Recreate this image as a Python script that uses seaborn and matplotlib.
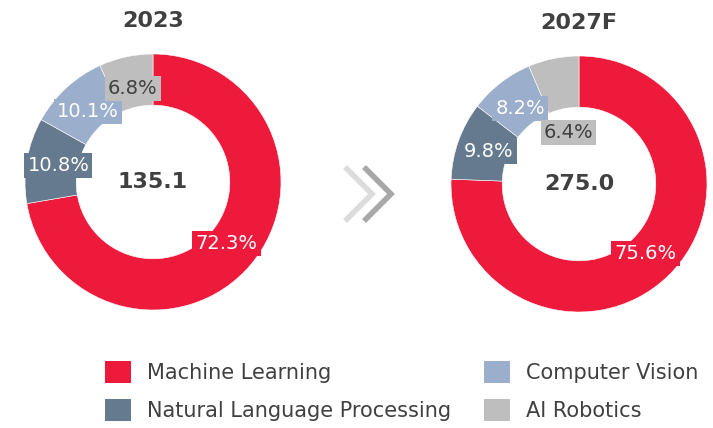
import matplotlib.pyplot as plt
import seaborn as sns
from matplotlib.lines import Line2D
from matplotlib.patches import Patch

segments = ["Machine Learning", "Natural Language Processing", "Computer Vision", "AI Robotics"]
colors = ["#EE1A3C", "#667A8F", "#9BAFCC", "#BEBEBE"]
share_2023 = [72.3, 10.8, 10.1, 6.8]
share_2027 = [75.6, 9.8, 8.2, 6.4]
years = ["2023", "2027F"]
totals = ["135.1", "275.0"]

sns.set_style("white")
plt.rcParams["font.family"] = ["DejaVu Sans"]
TXT = "#404040"

W, H = 713, 428
fig = plt.figure(figsize=(W / 100, H / 100), dpi=100)


def px_axes(cx, cy, r=128):
    return fig.add_axes([(cx - r) / W, 1 - (cy + r) / H, 2 * r / W, 2 * r / H])


def donut(ax, values, title, total, inner_label=None):
    wedges, texts, autotexts = ax.pie(
        values,
        colors=colors,
        startangle=90,
        counterclock=False,
        radius=1,
        autopct="%.1f%%",
        pctdistance=0.75,
        wedgeprops=dict(width=0.4, edgecolor="white", linewidth=0.4),
        textprops=dict(fontsize=14, color="white"),
    )
    for t, c in zip(autotexts, colors):
        t.set_bbox(dict(facecolor=c, edgecolor="none", pad=2.2))
    autotexts[3].set_color(TXT)
    if inner_label is not None:
        x, y = autotexts[3].get_position()
        autotexts[3].set_position((x * inner_label / 0.75, y * inner_label / 0.75))
    ax.text(0, 0, total, ha="center", va="center", fontsize=16, fontweight="bold", color=TXT)
    ax.set_xlim(-1, 1)
    ax.set_ylim(-1, 1)
    ax.set_aspect("equal")
    ax.axis("off")
    ax.set_title(title, fontsize=16, fontweight="bold", color=TXT, pad=0, y=1.105)


donut(px_axes(153, 182), share_2023, years[0], totals[0])
donut(px_axes(579, 184), share_2027, years[1], totals[1], inner_label=0.41)

# chevrons between the two donuts
for x0, col in [(345, "#DCDCDC"), (364, "#A8A8A8")]:
    xs = [x0 / W, (x0 + 27) / W, x0 / W]
    ys = [1 - 167 / H, 1 - 194 / H, 1 - 221 / H]
    fig.add_artist(Line2D(xs, ys, color=col, linewidth=4, solid_joinstyle="miter",
                          solid_capstyle="butt", transform=fig.transFigure))

handles = [Patch(facecolor=c, edgecolor="none") for c in colors]
fig.legend(
    handles,
    segments,
    ncol=2,
    loc="upper left",
    bbox_to_anchor=(105 / W, 1 - 361 / H),
    frameon=False,
    fontsize=15,
    labelcolor=TXT,
    handlelength=1.25,
    handleheight=1.25,
    handletextpad=0.75,
    columnspacing=1.6,
    labelspacing=0.75,
    borderpad=0,
    borderaxespad=0,
)

fig.savefig("out.png", dpi=100)
